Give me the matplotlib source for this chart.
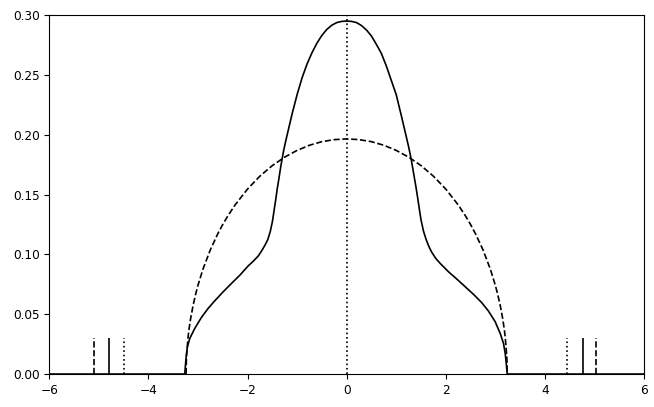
import matplotlib; matplotlib.use("Agg")
import matplotlib.pyplot as plt

# solid density curve
x_solid = [-6.0, -3.267, -3.25, -3.235, -3.213, -3.165, -3.064, -2.929, -2.794, -2.659, -2.49,
           -2.322, -2.153, -1.984, -1.879, -1.777, -1.70, -1.644, -1.59, -1.542, -1.50, -1.474,
           -1.445, -1.427, -1.40, -1.372, -1.335, -1.306, -1.27, -1.239, -1.18, -1.10, -1.00,
           -0.90, -0.80, -0.70, -0.60, -0.50, -0.40, -0.30, -0.20, -0.10, 0.0,
           0.10, 0.20, 0.30, 0.40, 0.50, 0.60, 0.70, 0.80, 0.90, 1.00, 1.10, 1.18, 1.25, 1.30,
           1.35, 1.40, 1.44, 1.47, 1.50, 1.55, 1.603, 1.66, 1.717, 1.80, 1.886, 2.054, 2.222,
           2.391, 2.559, 2.727, 2.862, 2.997, 3.098, 3.165, 3.199, 3.219, 3.232, 3.24, 6.0]
y_solid = [0.0, 0.0, 0.009, 0.016, 0.0228, 0.0298, 0.0382, 0.0474, 0.0549, 0.0613, 0.0688,
           0.0758, 0.0827, 0.0905, 0.0945, 0.099, 0.104, 0.108, 0.1125, 0.119, 0.127, 0.134,
           0.142, 0.147, 0.155, 0.162, 0.172, 0.179, 0.187, 0.193, 0.2035, 0.2175, 0.2335,
           0.2475, 0.259, 0.2685, 0.2765, 0.283, 0.288, 0.2915, 0.2937, 0.2947, 0.295,
           0.2947, 0.2937, 0.2912, 0.2875, 0.2825, 0.2755, 0.268, 0.2575, 0.2455, 0.2335, 0.2165,
           0.2025, 0.190, 0.180, 0.168, 0.156, 0.1454, 0.137, 0.129, 0.1195, 0.1125, 0.1065,
           0.1018, 0.0965, 0.0925, 0.0855, 0.0794, 0.073, 0.0666, 0.0596, 0.0526, 0.0437, 0.034,
           0.0256, 0.0173, 0.0095, 0.004, 0.0, 0.0]

# dashed semicircle-like curve
x_dash = [-3.24, -3.235, -3.23, -3.20, -3.18, -3.15, -3.10, -3.05, -3.00, -2.90, -2.75, -2.60,
          -2.50, -2.40, -2.25, -2.00, -1.75, -1.50, -1.25, -1.00, -0.75, -0.50, -0.25, 0.0,
          0.25, 0.50, 0.75, 1.00, 1.25, 1.50, 1.75, 2.00, 2.25, 2.40, 2.50, 2.60, 2.75, 2.90,
          3.00, 3.05, 3.10, 3.15, 3.18, 3.20, 3.23, 3.235, 3.24]
y_dash = [0.0, 0.0109, 0.0155, 0.0308, 0.0376, 0.046, 0.0571, 0.0663, 0.0742, 0.0876, 0.1039, 0.1172,
          0.125, 0.132, 0.1414, 0.1546, 0.1654, 0.1742, 0.1813, 0.1869, 0.1912, 0.1942, 0.1959, 0.1965,
          0.1959, 0.1942, 0.1912, 0.1869, 0.1813, 0.1742, 0.1654, 0.1546, 0.1414, 0.132, 0.125, 0.1172,
          0.1039, 0.0876, 0.0742, 0.0663, 0.0571, 0.046, 0.0376, 0.0308, 0.0155, 0.0109, 0.0]

# short vertical markers near the edges
mark_dashed = [-5.09, 5.03]
mark_solid = [-4.79, 4.76]
mark_dotted = [-4.49, 4.44]
mark_h = 0.03

plt.rcParams.update({"font.family": "DejaVu Sans", "font.size": 8.7})
fig = plt.figure(figsize=(6.54, 4.07), dpi=100)
ax = fig.add_axes([0.0754, 0.081, 0.9093, 0.882])

lw = 1.2
ax.plot(x_solid, y_solid, color="k", lw=lw)
ax.plot(x_dash, y_dash, color="k", lw=lw, ls="--")
ax.axvline(0, color="k", lw=lw, ls=":")
ax.vlines(mark_dashed, 0, mark_h, colors="k", lw=lw, linestyles="--")
ax.vlines(mark_solid, 0, mark_h, colors="k", lw=lw, linestyles="-")
ax.vlines(mark_dotted, 0, mark_h, colors="k", lw=lw, linestyles=":")

ax.set_xlim(-6, 6)
ax.set_ylim(0, 0.30)
ax.set_xticks([-6, -4, -2, 0, 2, 4, 6])
ax.set_yticks([0.0, 0.05, 0.10, 0.15, 0.20, 0.25, 0.30])
ax.set_yticklabels(["0.00", "0.05", "0.10", "0.15", "0.20", "0.25", "0.30"])
ax.tick_params(labelsize=8.7, length=3.5, width=0.8)

fig.savefig("out.png", dpi=100)
